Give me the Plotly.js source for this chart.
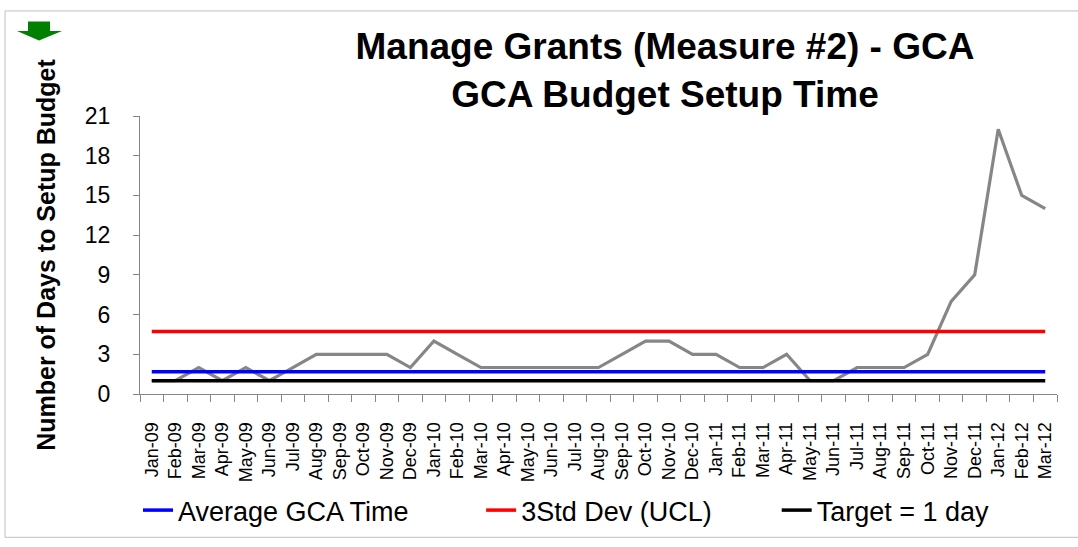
<!DOCTYPE html>
<html>
<head>
<meta charset="utf-8">
<script src="https://cdn.plot.ly/plotly-3.0.1.min.js"></script>
<style>html,body{margin:0;padding:0;background:#fff;}#chart{width:1078px;height:547px;}</style>
</head>
<body>
<div id="chart"></div>
<script>
const months = ['Jan-09','Feb-09','Mar-09','Apr-09','May-09','Jun-09','Jul-09','Aug-09','Sep-09','Oct-09','Nov-09','Dec-09',
  'Jan-10','Feb-10','Mar-10','Apr-10','May-10','Jun-10','Jul-10','Aug-10','Sep-10','Oct-10','Nov-10','Dec-10',
  'Jan-11','Feb-11','Mar-11','Apr-11','May-11','Jun-11','Jul-11','Aug-11','Sep-11','Oct-11','Nov-11','Dec-11',
  'Jan-12','Feb-12','Mar-12'];
const gcaDays = [1,1,2,1,2,1,2,3,3,3,3,2,
  4,3,2,2,2,2,2,2,3,4,4,3,
  3,2,2,3,1,1,2,2,2,3,7,9,
  20,15,14];
const averageGCA = 1.68;
const ucl3Std = 4.72;
const target = 1;
const yTicks = [0,3,6,9,12,15,18,21];
const legendNames = ['Average GCA Time','3Std Dev (UCL)','Target = 1 day'];

const FONT = 'Liberation Sans, Arial, sans-serif';
const first = months[0], last = months[months.length-1];
const pad = n => '\u00a0'.repeat(n);

const traces = [
  {x: months, y: gcaDays, type:'scatter', mode:'lines', line:{color:'#868686', width:3.2}, showlegend:false, name:'GCA Budget Setup Time'},
  {x: [first,last], y:[averageGCA,averageGCA], type:'scatter', mode:'lines', line:{color:'#0000ff', width:3.5}, name: legendNames[0] + pad(9)},
  {x: [first,last], y:[ucl3Std,ucl3Std], type:'scatter', mode:'lines', line:{color:'#ff0000', width:3.5}, name: legendNames[1] + pad(8)},
  {x: [first,last], y:[target,target], type:'scatter', mode:'lines', line:{color:'#000000', width:3.5}, name: legendNames[2]}
];

// pixel -> paper helpers for decorative shapes
const L=140, R=21, T=116, B=140, W=1078, H=547;
const pw = W-L-R, ph = H-T-B;
const px = v => (v-L)/pw;
const py = v => (H-B-v)/ph;
const pt = (a,b) => px(a)+','+py(b);
const arrowPath = 'M'+pt(28,17)+' L'+pt(50,17)+' L'+pt(50,27)+' L'+pt(62,27)+' L'+pt(39,37)+' L'+pt(17,27)+' L'+pt(28,27)+' Z';

const layout = {
  width: W, height: H,
  margin: {l:L, r:R, t:T, b:B, pad:0},
  paper_bgcolor:'#ffffff', plot_bgcolor:'#ffffff',
  font: {family: FONT, color:'#000000'},
  title: {
    text: 'Manage Grants (Measure #2) - GCA<br>GCA Budget Setup Time',
    font: {family: FONT, size: 37, weight: 'bold', color:'#000000'},
    xref: 'container', x: 665/W, xanchor: 'center',
    yref: 'container', y: 1-59/H, yanchor: 'top'
  },
  xaxis: {
    type:'category', range:[-0.5, months.length-0.5],
    showgrid:false, zeroline:false,
    showline:true, linecolor:'#868686', linewidth:1,
    ticks:'outside', ticklen:7, tickcolor:'#868686', tickwidth:1,
    tickson:'boundaries',
    tickangle:-90, tickfont:{family:FONT, size:18, color:'#000000'},
    ticklabelstandoff: 20,
    automargin:false
  },
  yaxis: {
    range:[0,21], tickvals: yTicks, ticktext: yTicks.map(String),
    showgrid:false, zeroline:false,
    showline:true, linecolor:'#868686', linewidth:1,
    ticks:'outside', ticklen:6, tickcolor:'#868686', tickwidth:1,
    tickfont:{family:FONT, size:23, color:'#000000'},
    ticklabelstandoff: 18,
    title:{text:'Number of Days to Setup Budget', font:{family:FONT, size:25, weight:'bold', color:'#000000'}, standoff: 22},
    automargin:false
  },
  legend: {
    orientation:'h', x: px(138), xanchor:'left', y: py(529), yanchor:'middle',
    font:{family:FONT, size:27, color:'#000000'},
    bgcolor:'rgba(0,0,0,0)', traceorder:'normal'
  },
  shapes: [
    {type:'rect', xref:'paper', yref:'paper', x0:px(5), x1:px(W+10), y0:py(6), y1:py(H+10), line:{color:'#bfbfbf', width:1}, fillcolor:'rgba(0,0,0,0)', layer:'below'},
    {type:'path', xref:'paper', yref:'paper', path: arrowPath, fillcolor:'#008000', line:{width:0}}
  ],
  showlegend:true
};

Plotly.newPlot('chart', traces, layout, {displayModeBar:false, staticPlot:true});
</script>
</body>
</html>
